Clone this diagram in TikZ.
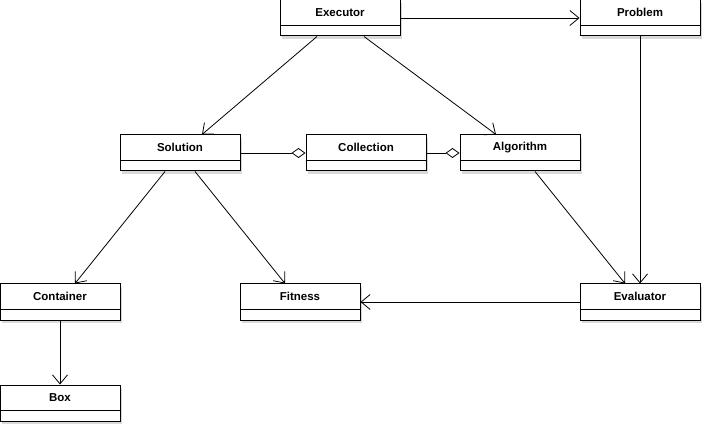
\documentclass[tikz,border=0pt]{standalone}
\usepackage{fontspec}
\setmainfont{Liberation Sans}
\usetikzlibrary{arrows.meta,shadows}
\tikzset{
  cls/.style={draw=black, fill=white, line width=1pt, minimum width=120pt, minimum height=36pt, inner sep=0pt,
    drop shadow={opacity=0.3, shadow xshift=2pt, shadow yshift=-3pt}},
  clstext/.style={font=\bfseries\fontsize{11.5pt}{13pt}\selectfont, inner sep=0pt},
  assoc/.style={draw, line width=0.8pt, -{Straight Barb[length=9pt,width=15pt,line width=0.8pt]}},
  aggr/.style={draw, line width=0.8pt, -{Diamond[open,length=14pt,width=10pt,line width=0.8pt,fill=white]}},
}
\newcommand\umlbox[4]{%
  \node[cls] (#1) at (#2,#3) {};
  \node[clstext] (#1t) at ([yshift=-13pt]#1.north) {#4};
  \draw[line width=0.8pt] ([yshift=-26pt]#1.north west) -- ([yshift=-26pt]#1.north east);
}
\begin{document}
\begin{tikzpicture}[x=1pt,y=-1pt]
\useasboundingbox (0,0) rectangle (706,427);
\umlbox{ex}{340}{18}{Executor}
\umlbox{pr}{640}{18}{Problem}
\umlbox{so}{180}{153}{Solution}
\umlbox{co}{366}{153}{Collection}
\umlbox{al}{520}{153}{Algorithm}
\umlbox{ct}{60}{302}{Container}
\umlbox{fi}{300}{302}{Fitness}
\umlbox{ev}{640}{302}{Evaluator}
\umlbox{bx}{60}{403}{Box}
\draw[assoc] (ex.east) -- (pr.west);
\draw[assoc] ([xshift=-23pt]ex.south) -- ([xshift=22pt]so.north);
\draw[assoc] ([xshift=24pt]ex.south) -- ([xshift=-24pt]al.north);
\draw[assoc] (pr.south) -- (ev.north);
\draw[aggr] (so.east) -- (co.west);
\draw[aggr] (co.east) -- (al.west);
\draw[assoc] ([xshift=-15pt]so.south) -- ([xshift=15pt]ct.north);
\draw[assoc] ([xshift=15pt]so.south) -- ([xshift=-15pt]fi.north);
\draw[assoc] ([xshift=15pt]al.south) -- ([xshift=-15pt]ev.north);
\draw[assoc] (ev.west) -- (fi.east);
\draw[assoc] (ct.south) -- (bx.north);
\end{tikzpicture}
\end{document}
